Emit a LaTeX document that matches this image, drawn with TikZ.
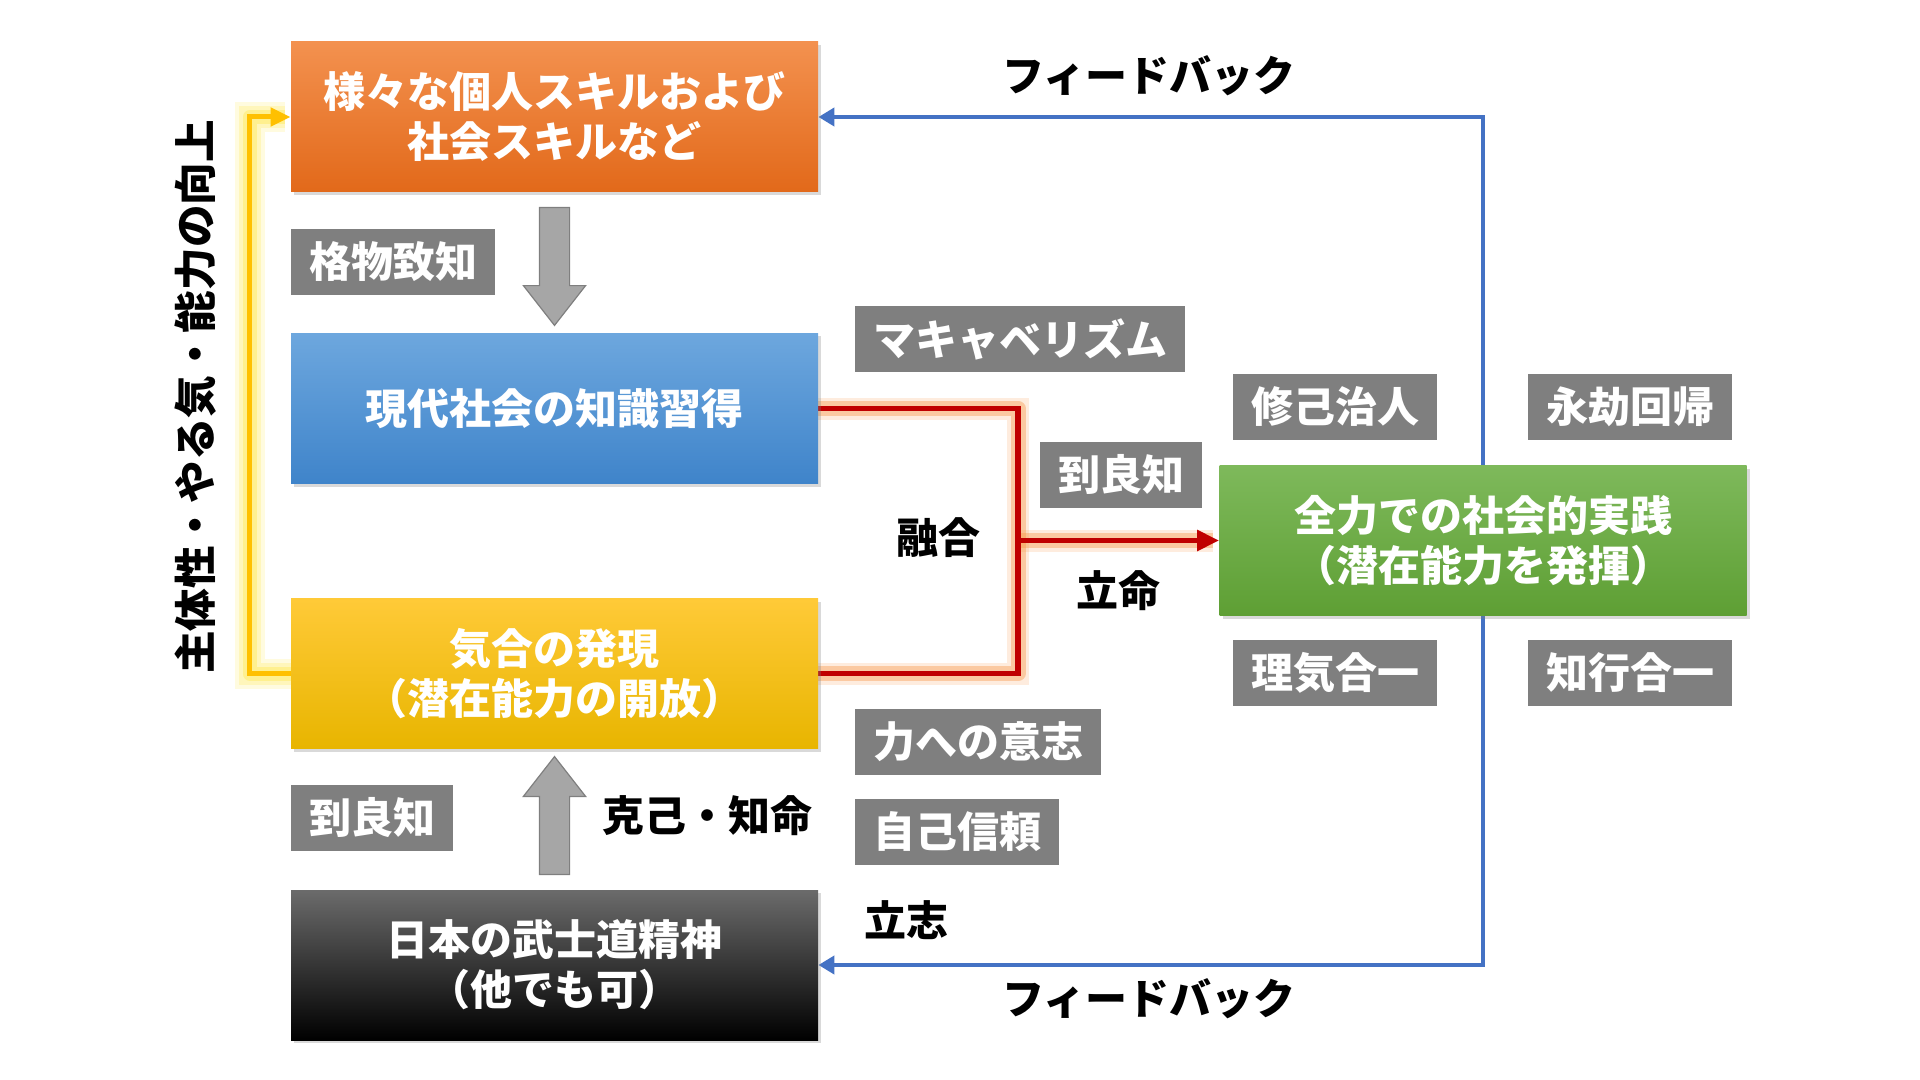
\documentclass[tikz,border=0pt]{standalone}
\usepackage{fontspec}
\newfontfamily\jpfont{Noto Sans CJK JP}
\usetikzlibrary{arrows.meta,shapes.arrows,shadows,backgrounds,calc}

\definecolor{skillTop}{HTML}{F3914F}
\definecolor{skillBot}{HTML}{E2691A}
\definecolor{chiTop}{HTML}{6DA7DE}
\definecolor{chiBot}{HTML}{3F84CA}
\definecolor{kiaiTop}{HTML}{FFCA38}
\definecolor{kiaiBot}{HTML}{E8B500}
\definecolor{jisTop}{HTML}{7EB95B}
\definecolor{jisBot}{HTML}{5E9F34}
\definecolor{tagGray}{HTML}{7F7F7F}
\definecolor{fbBlue}{HTML}{4472C4}
\definecolor{fuseRed}{HTML}{C00000}
\definecolor{upYellow}{HTML}{FFC000}
\definecolor{arrowFill}{HTML}{A6A6A6}
\definecolor{arrowEdge}{HTML}{7F7F7F}
\definecolor{glowOrange}{HTML}{F79646}
\definecolor{glowYellow}{HTML}{FFE84D}

\tikzset{
  jp/.style={font=\jpfont\bfseries\fontsize{21}{25}\selectfont},
  box/.style={jp,text=white,align=center,minimum width=263.5pt,minimum height=75pt,
    drop shadow={shadow xshift=1.5pt,shadow yshift=-1.5pt,opacity=0.3}},
  tag/.style={jp,fill=tagGray,text=white,anchor=west,minimum height=33pt,inner xsep=9pt},
  bigarrow/.style={single arrow,fill=arrowFill,draw=arrowEdge,line width=0.6pt,
    minimum width=30.5pt,minimum height=59pt,single arrow head extend=8pt,
    single arrow tip angle=76,inner xsep=0pt,inner ysep=7.25pt},
  fbline/.style={fbBlue,line width=2.4pt,-{Triangle[width=9pt,length=8pt]}},
  fuseline/.style={fuseRed,line width=2.8pt},
  upline/.style={upYellow,line width=2.5pt},
  fuseglow/.style={glowOrange,line join=round,
    preaction={draw=glowOrange,line width=11pt,opacity=0.18},
    line width=7.5pt,opacity=0.4},
  upglow/.style={glowYellow,line join=round,
    preaction={draw=glowYellow,line width=15pt,opacity=0.18},
    preaction={draw=glowYellow,line width=11pt,opacity=0.25},
    line width=7pt,opacity=0.4},
}

\begin{document}
\begin{tikzpicture}[x=0.5pt,y=-0.5pt]
\useasboundingbox (0,0) rectangle (1920,1080);

% main boxes
\node[box,top color=skillTop,bottom color=skillBot] (skill) at (554.5,117) {様々な個人スキルおよび\\社会スキルなど};
\node[box,top color=chiTop,bottom color=chiBot] (chishiki) at (554.5,408.5) {現代社会の知識習得};
\node[box,top color=kiaiTop,bottom color=kiaiBot] (kiai) at (554.5,673.5) {気合の発現\\（潜在能力の開放）};
\node[box,top color=black!58,middle color=black,bottom color=black] (bushido) at (554.5,965) {日本の武士道精神\\（他でも可）};
\node[box,top color=jisTop,bottom color=jisBot] (jissen) at (1483,540.5) {全力での社会的実践\\（潜在能力を発揮）};

% gray tags
\node[tag] (kakubutsu) at (291,262) {格物致知};
\node[tag] (machia) at (855,339) {マキャベリズム};
\node[tag] (shuko) at (1233,406.5) {修己治人};
\node[tag] (eigo) at (1528,406.5) {永劫回帰};
\node[tag] (ryochiR) at (1040,475) {到良知};
\node[tag] (riki) at (1233,673) {理気合一};
\node[tag] (chiko) at (1528,673) {知行合一};
\node[tag] (chikara) at (855,742) {力への意志};
\node[tag] (jiko) at (855,831.5) {自己信頼};
\node[tag] (ryochiL) at (291,818) {到良知};

% labels
\node[jp] (fbTop) at (1149,76) {フィードバック};
\node[jp] (fbBot) at (1149,999) {フィードバック};
\node[jp] (yugo) at (938,538) {融合};
\node[jp] (ritsumei) at (1118,591) {立命};
\node[jp] (kokki) at (707,816) {克己・知命};
\node[jp] (risshi) at (906,920) {立志};
\node[jp,font=\jpfont\bfseries\fontsize{21.3}{25}\selectfont,rotate=90] (shutai) at (196,397) {主体性・やる気・能力の向上};

% block arrows
\node[bigarrow,rotate=-90] (kakuArrow) at ($(skill.south)!0.5!(chishiki.north)+(0,-6)$) {};
\node[bigarrow,rotate=90] (kokkiArrow) at ($(bushido.north)!0.5!(kiai.south)+(0,6)$) {};

% connectors
\begin{scope}[on background layer]
\coordinate (fuse) at (1018,540.5);
\draw[fuseglow] (chishiki.east) -| (fuse) |- (kiai.east);
\draw[fuseglow] (fuse) -- ([xshift=-3pt]jissen.west);
\draw[fuseline] (chishiki.east) -| (fuse) |- (kiai.east);
\draw[fuseline,-{Triangle[width=10pt,length=11pt]}] (fuse) -- (jissen.west);
\draw[upglow] (kiai.west) -- ++(-41,0) |- ([xshift=-3pt]skill.west);
\draw[upline,-{Triangle[width=9pt,length=10pt]}] (kiai.west) -- ++(-41,0) |- (skill.west);
\draw[fbline] (jissen.north) |- (skill.east);
\draw[fbline] (jissen.south) |- (bushido.east);
\end{scope}
\end{tikzpicture}
\end{document}
